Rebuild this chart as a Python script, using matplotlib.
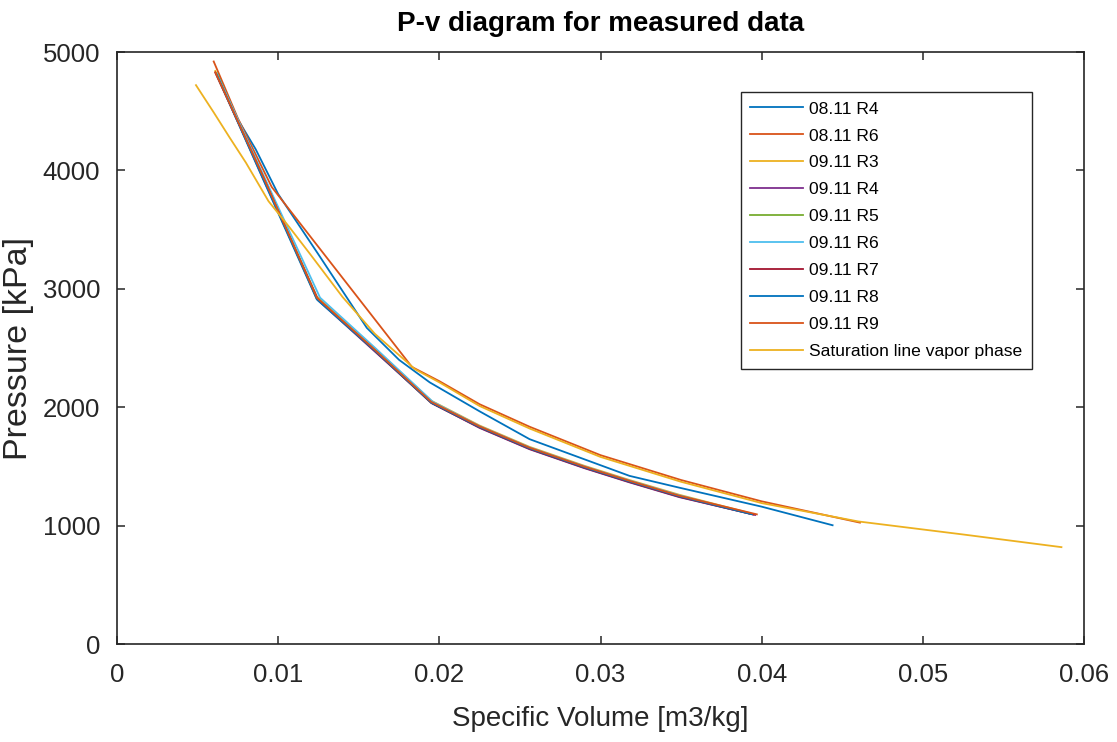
import matplotlib
matplotlib.use("Agg")
import matplotlib.pyplot as plt
from matplotlib import font_manager

# ---- data: specific volume [m3/kg] and pressure [kPa] per run ----
v_0811_R4 = [0.0063, 0.0075, 0.0086, 0.0100, 0.0125, 0.0155, 0.0175, 0.0194,
             0.0225, 0.0256, 0.0290, 0.0318, 0.0349, 0.0400, 0.0444]
p_0811_R4 = [4800, 4430, 4180, 3800, 3290, 2670, 2400, 2210,
             1965, 1730, 1560, 1420, 1320, 1160, 1003]

v_0811_R6 = [0.0060, 0.0075, 0.0096, 0.0183, 0.0200, 0.0225, 0.0256,
             0.0300, 0.0350, 0.0400, 0.0461]
p_0811_R6 = [4920, 4440, 3860, 2340, 2220, 2025, 1835,
             1595, 1385, 1205, 1025]

v_0911_R3 = [0.0061, 0.0090, 0.0124, 0.0160, 0.0195, 0.0225, 0.0256,
             0.0290, 0.0318, 0.0349, 0.0392]
p_0911_R3 = [4840, 3975, 2935, 2495, 2055, 1845, 1665, 1505, 1385, 1260, 1108]

v_0911_R4 = [0.0062, 0.0090, 0.0125, 0.0160, 0.0196, 0.0225, 0.0256,
             0.0290, 0.0318, 0.0349, 0.0396]
p_0911_R4 = [4810, 3950, 2900, 2470, 2030, 1825, 1645, 1485, 1365, 1240, 1090]

v_0911_R5 = [0.0062, 0.0090, 0.0124, 0.0160, 0.0195, 0.0225, 0.0256,
             0.0290, 0.0318, 0.0349, 0.0394]
p_0911_R5 = [4820, 3960, 2915, 2480, 2040, 1835, 1655, 1495, 1375, 1250, 1098]

v_0911_R6 = [0.0062, 0.0091, 0.0126, 0.0161, 0.0196, 0.0225, 0.0256,
             0.0290, 0.0318, 0.0349, 0.0393]
p_0911_R6 = [4815, 3955, 2925, 2490, 2045, 1840, 1660, 1500, 1380, 1255, 1100]

v_0911_R7 = [0.0061, 0.0090, 0.0124, 0.0160, 0.0195, 0.0225, 0.0256,
             0.0290, 0.0318, 0.0349, 0.0395]
p_0911_R7 = [4825, 3965, 2920, 2475, 2035, 1828, 1648, 1488, 1368, 1243, 1093]

v_0911_R8 = [0.0062, 0.0090, 0.0124, 0.0160, 0.0195, 0.0225, 0.0256,
             0.0290, 0.0318, 0.0349, 0.0394]
p_0911_R8 = [4805, 3945, 2910, 2478, 2038, 1832, 1652, 1492, 1372, 1247, 1096]

v_0911_R9 = [0.0061, 0.0090, 0.0124, 0.0160, 0.0195, 0.0225, 0.0256,
             0.0290, 0.0318, 0.0349, 0.0397]
p_0911_R9 = [4830, 3968, 2925, 2485, 2045, 1838, 1658, 1498, 1378, 1252, 1095]

v_sat = [0.0049, 0.0060, 0.0070, 0.0080, 0.0094, 0.0107, 0.0120, 0.0140,
         0.0160, 0.0185, 0.0200, 0.0225, 0.0256, 0.0300, 0.0350, 0.0400,
         0.0460, 0.0525, 0.0586]
p_sat = [4720, 4490, 4275, 4065, 3740, 3520, 3290, 2930,
         2620, 2320, 2210, 2010, 1820, 1580, 1370, 1190,
         1035, 925, 818]

labels = ["08.11 R4", "08.11 R6", "09.11 R3", "09.11 R4", "09.11 R5",
          "09.11 R6", "09.11 R7", "09.11 R8", "09.11 R9",
          "Saturation line vapor phase"]

series = [(v_0811_R4, p_0811_R4), (v_0811_R6, p_0811_R6),
          (v_0911_R3, p_0911_R3), (v_0911_R4, p_0911_R4),
          (v_0911_R5, p_0911_R5), (v_0911_R6, p_0911_R6),
          (v_0911_R7, p_0911_R7), (v_0911_R8, p_0911_R8),
          (v_0911_R9, p_0911_R9), (v_sat, p_sat)]

colors = ["#0072BD", "#D95319", "#EDB120", "#7E2F8E", "#77AC30",
          "#4DBEEE", "#A2142F", "#0072BD", "#D95319", "#EDB120"]

x_ticks = [0, 0.01, 0.02, 0.03, 0.04, 0.05, 0.06]
x_ticklabels = ["0", "0.01", "0.02", "0.03", "0.04", "0.05", "0.06"]
y_ticks = [0, 1000, 2000, 3000, 4000, 5000]

# ---- fonts ----
available = {f.name for f in font_manager.fontManager.ttflist}
if "Liberation Sans Narrow" in available:
    axis_font = ["Liberation Sans Narrow", "Liberation Sans", "DejaVu Sans"]
    tick_size, title_size, xlabel_size = 21, 24, 24
else:
    axis_font = ["Liberation Sans", "DejaVu Sans"]
    tick_size, title_size, xlabel_size = 18.5, 20, 20
plain_font = ["Liberation Sans", "DejaVu Sans"]
ink = "#262626"

fig = plt.figure(figsize=(11.17, 7.42), dpi=100)
ax = fig.add_axes([117 / 1117, 1 - 644 / 742, 967 / 1117, 592 / 742])

for (v, p), c, lab in zip(series, colors, labels):
    ax.plot(v, p, color=c, lw=1.3, label=lab)

ax.set_xlim(0, 0.06)
ax.set_ylim(0, 5000)
ax.set_xticks(x_ticks)
ax.set_xticklabels(x_ticklabels)
ax.set_yticks(y_ticks)

for s in ax.spines.values():
    s.set_color(ink)
    s.set_linewidth(1.2)

ax.tick_params(axis="both", direction="in", length=6, width=1.1,
               colors=ink, top=True, right=True)
ax.tick_params(axis="x", pad=14)
ax.tick_params(axis="y", pad=12)
for t in ax.get_xticklabels() + ax.get_yticklabels():
    t.set_fontfamily(axis_font)
    t.set_fontsize(tick_size)
    t.set_color(ink)

ax.set_title("P-v diagram for measured data", fontfamily=axis_font,
             fontsize=title_size, fontweight="bold", color="black", pad=15)
ax.set_xlabel("Specific Volume [m3/kg]", fontfamily=axis_font,
              fontsize=xlabel_size, color=ink)
ax.set_ylabel("Pressure [kPa]", fontfamily=plain_font, fontsize=24.5,
              color=ink)
ax.xaxis.set_label_coords(0.5, -0.105)
ax.yaxis.set_label_coords(-0.086, 0.5)

leg = ax.legend(loc="upper left", bbox_to_anchor=(0.645, 0.933),
                prop={"family": plain_font, "size": 12.6},
                frameon=True, fancybox=False, framealpha=1,
                edgecolor=ink, handlelength=3.0, handletextpad=0.35,
                labelspacing=0.67, borderpad=0.55, borderaxespad=0)
leg.get_frame().set_linewidth(1.0)

fig.savefig("out.png", dpi=100, facecolor="white")
